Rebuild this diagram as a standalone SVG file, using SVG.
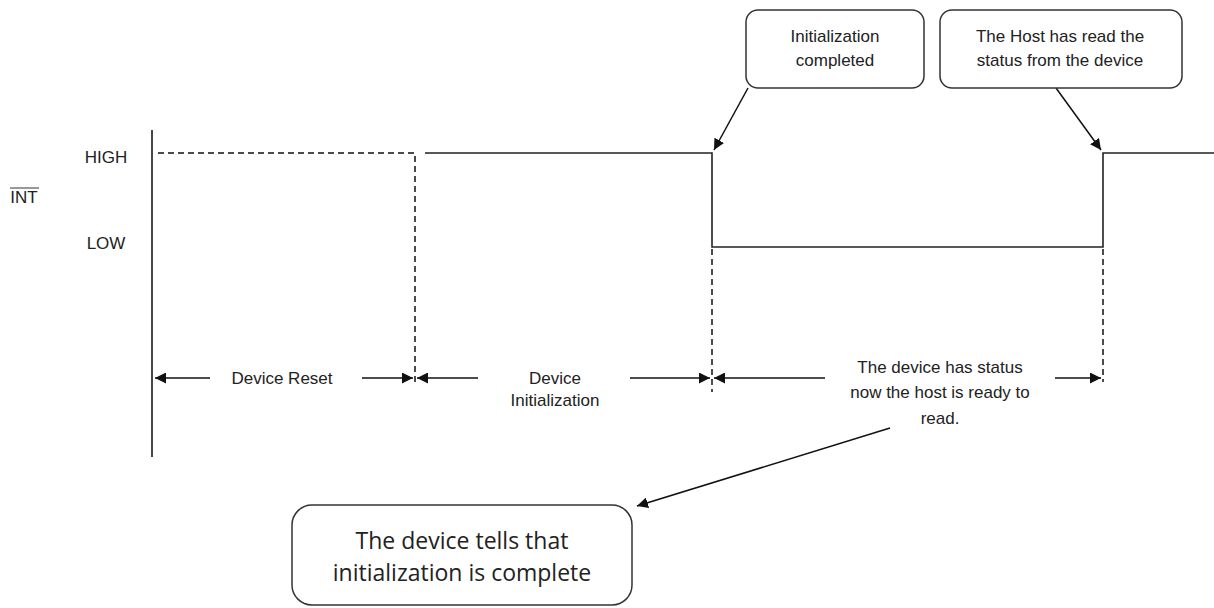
<svg xmlns="http://www.w3.org/2000/svg" width="1214" height="608" viewBox="0 0 1214 608">
<style>
text{font-family:"Liberation Sans",Arial,sans-serif;font-size:17px;fill:#222}
.big{font-family:"Open Sans","Noto Sans",sans-serif;font-size:23px;fill:#222}
.sig{fill:none;stroke:#222;stroke-width:1.6}
.dash{fill:none;stroke:#111;stroke-width:1.5;stroke-dasharray:6,4}
.arr{fill:none;stroke:#111;stroke-width:1.5;marker-end:url(#ah)}
.box{fill:#fff;stroke:#333;stroke-width:1.5}
</style>
<defs>
<marker id="ah" viewBox="0 0 10 10" refX="10" refY="5" markerWidth="11" markerHeight="11" markerUnits="userSpaceOnUse" orient="auto">
<path d="M0,0 L10,5 L0,10 Z" fill="#111"/>
</marker>
</defs>
<rect width="1214" height="608" fill="#fff"/>
<g id="axis">
<line x1="152" y1="130" x2="152" y2="457" stroke="#333" stroke-width="1.8"/>
<text x="106" y="163" text-anchor="middle">HIGH</text>
<text x="106" y="249" text-anchor="middle">LOW</text>
<text x="24" y="203" text-anchor="middle" font-size="15">INT</text>
<line x1="10" y1="188" x2="39" y2="188" stroke="#333" stroke-width="1"/>
</g>
<g id="signal">
<path class="dash" d="M158,153 H415 V382"/>
<path class="sig" d="M425,153 H712 V247 H1103 V153 H1214"/>
<path class="dash" d="M712,249 V392"/>
<path class="dash" d="M1103,249 V382"/>
</g>
<g id="connectors">
<line class="arr" x1="210" y1="378" x2="155" y2="378"/>
<line class="arr" x1="362" y1="378" x2="413" y2="378"/>
<line class="arr" x1="478" y1="378" x2="417" y2="378"/>
<line class="arr" x1="630" y1="378" x2="710" y2="378"/>
<line class="arr" x1="825" y1="378" x2="714" y2="378"/>
<line class="arr" x1="1055" y1="378" x2="1101" y2="378"/>
<line class="arr" x1="748" y1="88" x2="714" y2="150"/>
<line class="arr" x1="1056" y1="88" x2="1101" y2="150"/>
<line class="arr" x1="890" y1="428" x2="637" y2="506"/>
</g>
<g id="label-reset"><text x="282" y="384" text-anchor="middle">Device Reset</text></g>
<g id="label-init">
<text x="555" y="384" text-anchor="middle">Device</text>
<text x="555" y="406" text-anchor="middle">Initialization</text>
</g>
<g id="label-status">
<text x="940" y="373" text-anchor="middle">The device has status</text>
<text x="940" y="398" text-anchor="middle">now the host is ready to</text>
<text x="940" y="424" text-anchor="middle">read.</text>
</g>
<g id="callout-init">
<rect class="box" x="746" y="10" width="178" height="78" rx="12"/>
<text x="835" y="42" text-anchor="middle">Initialization</text>
<text x="835" y="66" text-anchor="middle">completed</text>
</g>
<g id="callout-host">
<rect class="box" x="940" y="10" width="242" height="78" rx="12"/>
<text x="1060" y="42" text-anchor="middle">The Host has read the</text>
<text x="1060" y="66" text-anchor="middle">status from the device</text>
</g>
<g id="callout-device">
<rect class="box" x="292" y="505" width="340" height="100" rx="20"/>
<text class="big" x="462" y="549" text-anchor="middle">The device tells that</text>
<text class="big" x="462" y="581" text-anchor="middle">initialization is complete</text>
</g>
</svg>
